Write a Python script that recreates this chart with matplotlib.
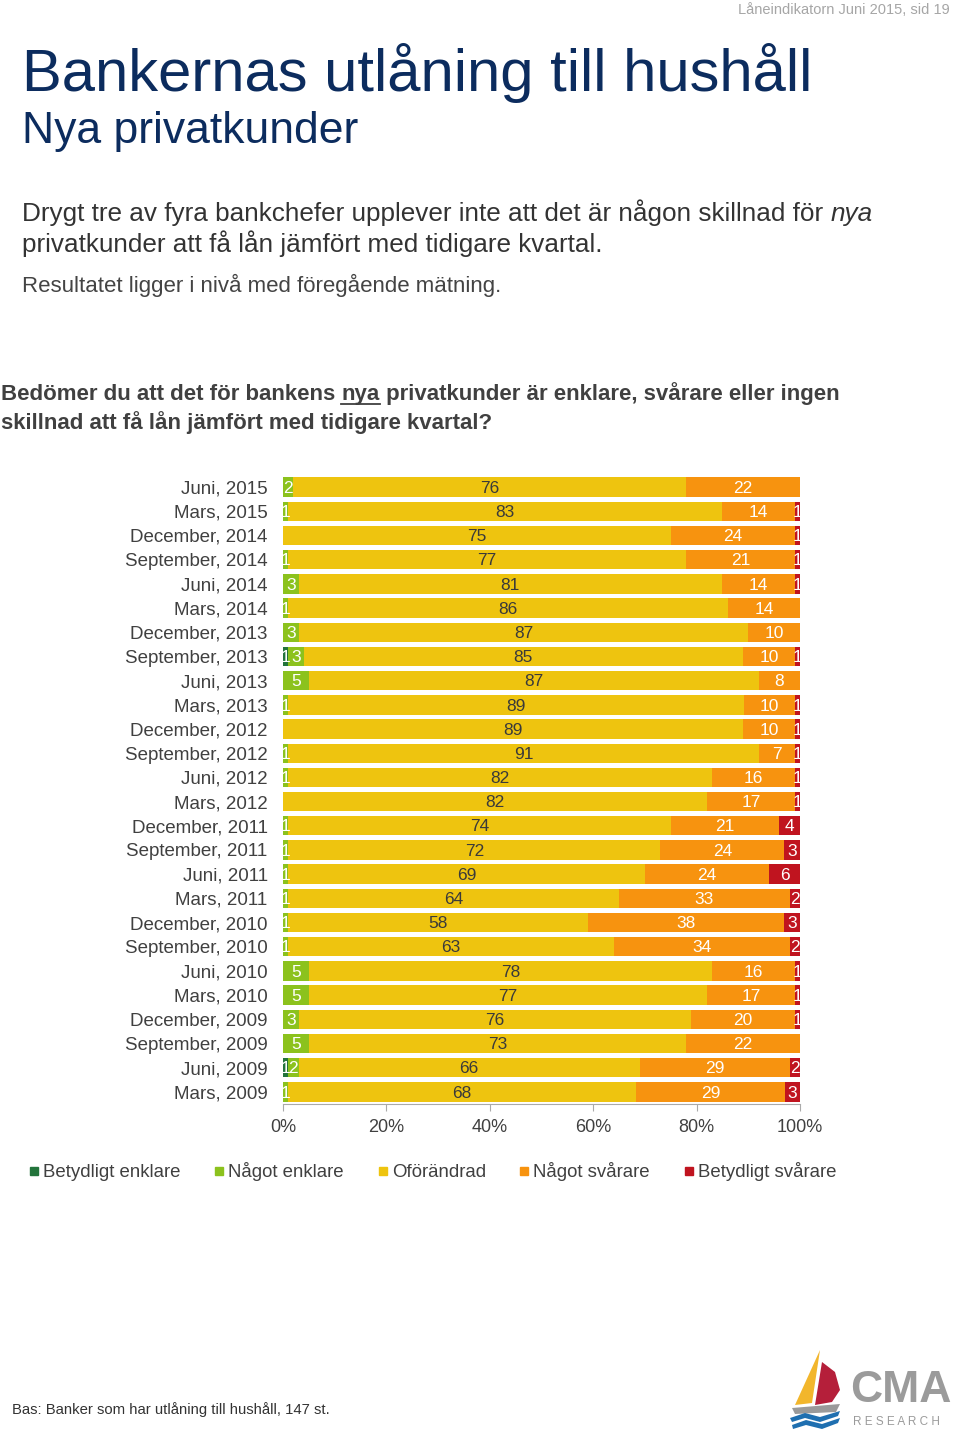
import numpy as np
import matplotlib
matplotlib.use('Agg')
import matplotlib.pyplot as plt
from matplotlib.patches import Rectangle, Polygon
from matplotlib.lines import Line2D

plt.rcParams['font.family'] = ['Liberation Sans', 'DejaVu Sans']

periods = ["Juni, 2015", "Mars, 2015", "December, 2014", "September, 2014", "Juni, 2014",
           "Mars, 2014", "December, 2013", "September, 2013", "Juni, 2013", "Mars, 2013",
           "December, 2012", "September, 2012", "Juni, 2012", "Mars, 2012", "December, 2011",
           "September, 2011", "Juni, 2011", "Mars, 2011", "December, 2010", "September, 2010",
           "Juni, 2010", "Mars, 2010", "December, 2009", "September, 2009", "Juni, 2009",
           "Mars, 2009"]
series = ["Betydligt enklare", "Något enklare", "Oförändrad", "Något svårare", "Betydligt svårare"]
betydligt_enklare = [0, 0, 0, 0, 0, 0, 0, 1, 0, 0, 0, 0, 0, 0, 0, 0, 0, 0, 0, 0, 0, 0, 0, 0, 1, 0]
nagot_enklare = [2, 1, 0, 1, 3, 1, 3, 3, 5, 1, 0, 1, 1, 0, 1, 1, 1, 1, 1, 1, 5, 5, 3, 5, 2, 1]
oforandrad = [76, 83, 75, 77, 81, 86, 87, 85, 87, 89, 89, 91, 82, 82, 74, 72, 69, 64, 58, 63,
              78, 77, 76, 73, 66, 68]
nagot_svarare = [22, 14, 24, 21, 14, 14, 10, 10, 8, 10, 10, 7, 16, 17, 21, 24, 24, 33, 38, 34,
                 16, 17, 20, 22, 29, 29]
betydligt_svarare = [0, 1, 1, 1, 1, 0, 0, 1, 0, 1, 1, 1, 1, 1, 4, 3, 6, 2, 3, 2, 1, 1, 1, 0, 2, 3]
tick_labels = ["0%", "20%", "40%", "60%", "80%", "100%"]

colors = ["#23743b", "#8cc21d", "#eec40f", "#f7930f", "#c0141f"]
text_colors = ["white", "white", "#3a3a3a", "white", "white"]

W, H = 960, 1431
fig = plt.figure(figsize=(W / 100, H / 100), dpi=100)


def fx(px):
    return px / W


def fy(py):
    return 1 - py / H


# header texts
fig.text(fx(950), fy(14), "Låneindikatorn Juni 2015, sid 19", ha='right', va='baseline',
         fontsize=10.5, color='#a6a6a6')
fig.text(fx(22), fy(91), "Bankernas utlåning till hushåll", ha='left', va='baseline',
         fontsize=43, color='#0c2c5e')
fig.text(fx(22), fy(143), "Nya privatkunder", ha='left', va='baseline',
         fontsize=32, color='#0c2c5e')

renderer = fig.canvas.get_renderer()
pre = fig.text(fx(22), fy(221), "Drygt tre av fyra bankchefer upplever inte att det är någon skillnad för ",
               ha='left', va='baseline', fontsize=18.8, color='#333333')
bb = pre.get_window_extent(renderer)
fig.text(bb.x1 / W, fy(221), "nya", ha='left', va='baseline', fontsize=18.8,
         style='italic', color='#333333')
fig.text(fx(22), fy(252), "privatkunder att få lån jämfört med tidigare kvartal.",
         ha='left', va='baseline', fontsize=18.8, color='#333333')
fig.text(fx(22), fy(292), "Resultatet ligger i nivå med föregående mätning.",
         ha='left', va='baseline', fontsize=16, color='#444444')

q_pre = fig.text(fx(1), fy(400), "Bedömer du att det för bankens ", ha='left', va='baseline',
                 fontsize=16, fontweight='bold', color='#404040')
b1 = q_pre.get_window_extent(renderer)
q_nya = fig.text(b1.x1 / W, fy(400), "nya", ha='left', va='baseline',
                 fontsize=16, fontweight='bold', color='#404040')
b2 = q_nya.get_window_extent(renderer)
fig.text(b2.x1 / W, fy(400), " privatkunder är enklare, svårare eller ingen", ha='left',
         va='baseline', fontsize=16, fontweight='bold', color='#404040')
fig.add_artist(Line2D([b2.x0 / W, b2.x1 / W], [fy(404), fy(404)], color='#404040', lw=1.3))
fig.text(fx(1), fy(429), "skillnad att få lån jämfört med tidigare kvartal?", ha='left',
         va='baseline', fontsize=16, fontweight='bold', color='#404040')

# chart
ax = fig.add_axes([fx(283), fy(1104), fx(800) - fx(283), (1104 - 475) / H])
data = np.array([betydligt_enklare, nagot_enklare, oforandrad, nagot_svarare, betydligt_svarare],
                dtype=float)
shares = data / data.sum(axis=0) * 100
y = np.arange(len(periods))
left = np.zeros(len(periods))
for i, name in enumerate(series):
    ax.barh(y, shares[i], left=left, height=0.8, color=colors[i], label=name)
    for j in range(len(periods)):
        if data[i, j] > 0:
            ax.text(left[j] + shares[i, j] / 2, y[j] + 0.05, f"{int(data[i, j])}",
                    ha='center', va='center', fontsize=12.5, color=text_colors[i])
    left += shares[i]

ax.set_ylim(len(periods) - 0.5, -0.5)
ax.set_xlim(0, 100)
ax.set_yticks(y)
ax.set_yticklabels(periods, fontsize=13.5, color='#404040')
ax.tick_params(axis='y', length=0, pad=11)
ax.set_xticks(np.arange(0, 101, 20))
ax.set_xticklabels(tick_labels, fontsize=13, color='#404040')
ax.tick_params(axis='x', length=5, color='#aaaaaa', pad=6)
for s in ['top', 'right', 'left']:
    ax.spines[s].set_visible(False)
ax.spines['bottom'].set_color('#aaaaaa')

# legend
leg_x = [30, 215, 379, 520, 685]
for i, name in enumerate(series):
    fig.add_artist(Rectangle((fx(leg_x[i]), fy(1175)), 8 / W, 8 / H, color=colors[i]))
    fig.text(fx(leg_x[i] + 13), fy(1177), name, ha='left', va='baseline', fontsize=13.4,
             color='#404040')

fig.text(fx(12), fy(1414), "Bas: Banker som har utlåning till hushåll, 147 st.", ha='left',
         va='baseline', fontsize=10.7, color='#333333')

# logo
def px_poly(pts, color):
    fig.add_artist(Polygon([(fx(a), fy(b)) for a, b in pts], closed=True, color=color, lw=0))


px_poly([(820, 1350), (795, 1405), (812, 1403)], '#f2b62c')
px_poly([(822, 1362), (835, 1372), (840, 1390), (832, 1402), (815, 1405)], '#b51f3a')
px_poly([(792, 1408), (840, 1404), (836, 1412), (795, 1414)], '#9a9a9a')
px_poly([(790, 1418), (805, 1413), (820, 1417), (840, 1411), (838, 1416), (820, 1422),
         (805, 1418), (792, 1422)], '#1f6fb0')
px_poly([(792, 1425), (806, 1420), (822, 1424), (840, 1418), (838, 1423), (822, 1429),
         (806, 1425), (793, 1429)], '#1f6fb0')
fig.text(fx(850), fy(1402), "CMA", ha='left', va='baseline', fontsize=32, fontweight='bold',
         color='#9b9b9b')
fig.text(fx(853), fy(1425), "R E S E A R C H", ha='left', va='baseline', fontsize=8.5,
         color='#9b9b9b')

fig.savefig('out.png', dpi=100)
